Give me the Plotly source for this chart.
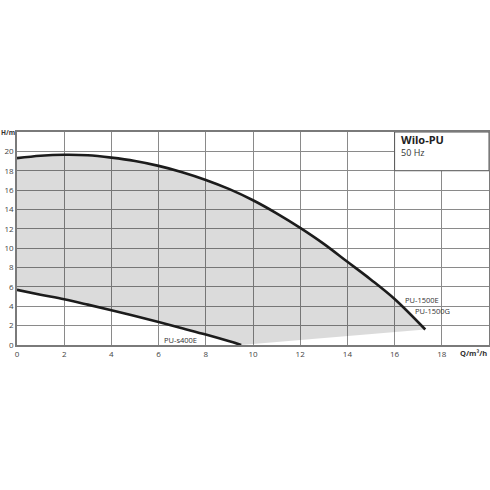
import plotly.graph_objects as go

# pump curves
upper_q = [0, 1, 2, 3, 4, 5, 6, 7, 8, 9, 10, 11, 12, 13, 14, 15, 16, 17.3]
upper_h = [19.3, 19.55, 19.65, 19.6, 19.35, 19.0, 18.5, 17.85, 17.05, 16.1,
           14.95, 13.6, 12.1, 10.45, 8.6, 6.75, 4.75, 1.6]
lower_q = [0, 1, 2, 3, 4, 5, 6, 7, 8, 9, 9.5]
lower_h = [5.7, 5.2, 4.72, 4.17, 3.6, 3.0, 2.38, 1.73, 1.08, 0.38, 0]

x_ticks = [0, 2, 4, 6, 8, 10, 12, 14, 16, 18]
y_ticks = [0, 2, 4, 6, 8, 10, 12, 14, 16, 18, 20]

label_upper = ["PU-1500E", "PU-1500G"]
label_lower = "PU-s400E"

font = "Open Sans"
ink = "#1c1c1c"

fig = go.Figure()

# shaded working range: upper curve out, straight edge down, lower curve back
# (semi transparent so the grid still shows through like on the datasheet)
area_q = upper_q + lower_q[::-1]
area_h = upper_h + lower_h[::-1]
fig.add_trace(go.Scatter(x=area_q, y=area_h, fill="toself", mode="none",
                         fillcolor="rgba(0,0,0,0.14)", hoverinfo="skip"))

fig.add_trace(go.Scatter(x=upper_q, y=upper_h, mode="lines",
                         line=dict(color=ink, width=2.6, shape="spline")))
fig.add_trace(go.Scatter(x=lower_q, y=lower_h, mode="lines",
                         line=dict(color=ink, width=2.6, shape="spline")))

fig.update_xaxes(range=[0, 20], tickvals=x_ticks, showgrid=True, gridcolor="#8a8a8a",
                 gridwidth=1, zeroline=False, showline=True, linecolor="#7a7a7a",
                 linewidth=2, mirror=True, ticks="", automargin=False,
                 tickfont=dict(size=8, color="#444", family=font))
fig.update_yaxes(range=[0, 22], tickvals=y_ticks + [22], ticktext=[str(v) for v in y_ticks] + [""],
                 showgrid=True, gridcolor="#8a8a8a", gridwidth=1, zeroline=False,
                 showline=True, linecolor="#7a7a7a", linewidth=1.5, mirror=True, ticks="",
                 automargin=False, tickfont=dict(size=8, color="#444", family=font))

# title box in the top right corner
fig.add_shape(type="rect", x0=16, x1=20, y0=18, y1=22, fillcolor="white",
              line=dict(color="#555", width=1), layer="above")
fig.add_annotation(x=16.2, y=21.2, text="<b>Wilo-PU</b>", showarrow=False, xanchor="left",
                   font=dict(size=11, color="#222", family=font))
fig.add_annotation(x=16.2, y=19.85, text="50 Hz", showarrow=False, xanchor="left",
                   font=dict(size=9, color="#333", family=font))

fig.add_annotation(x=16.35, y=4.6, text=label_upper[0], showarrow=False, xanchor="left",
                   font=dict(size=7.5, color="#333", family=font))
fig.add_annotation(x=16.8, y=3.55, text=label_upper[1], showarrow=False, xanchor="left",
                   font=dict(size=7.5, color="#333", family=font))
fig.add_annotation(x=6.15, y=0.55, text=label_lower, showarrow=False, xanchor="left",
                   font=dict(size=7.5, color="#333", family=font))

fig.add_annotation(x=0, y=1, xref="paper", yref="paper", text="<b>H/m</b>", showarrow=False,
                   xanchor="right", yanchor="middle", xshift=0,
                   font=dict(size=6.5, color="#333", family=font))
fig.add_annotation(x=1, y=0, xref="paper", yref="paper", text="<b>Q/m³/h</b>", showarrow=False,
                   xanchor="right", yanchor="top", yshift=-1,
                   font=dict(size=7.5, color="#333", family=font))

fig.update_layout(width=490, height=490, showlegend=False,
                  margin=dict(l=17, r=1, t=132, b=145),
                  plot_bgcolor="white", paper_bgcolor="white")

# drop the browser's default body margin so the figure sits at the page corner
fig.write_html("out.html", config={"displayModeBar": False},
               post_script="document.body.style.margin = '0px';")
